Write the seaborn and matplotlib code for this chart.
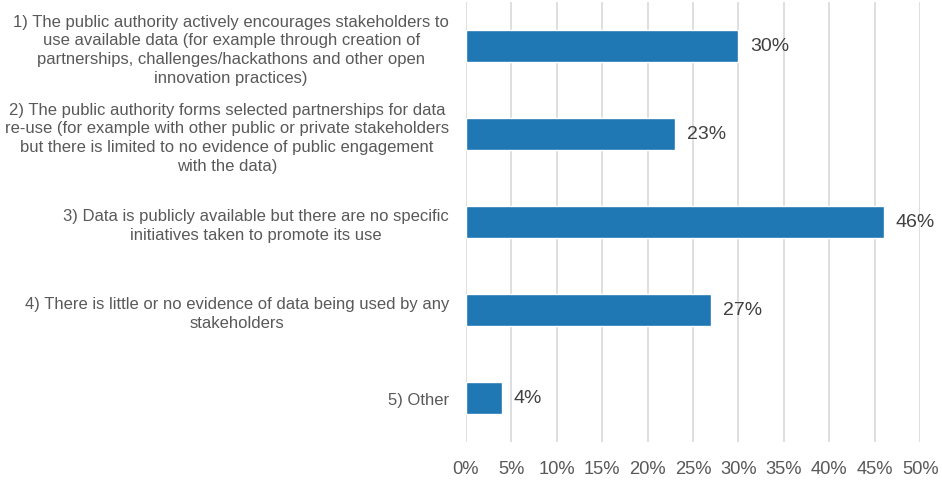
import matplotlib
matplotlib.use("Agg")
import matplotlib.pyplot as plt
import pandas as pd
import seaborn as sns
from matplotlib.ticker import FuncFormatter, MultipleLocator

categories = [
    "1) The public authority actively encourages stakeholders to\nuse available data (for example through creation of\npartnerships, challenges/hackathons and other open\ninnovation practices)",
    "2) The public authority forms selected partnerships for data\nre-use (for example with other public or private stakeholders\nbut there is limited to no evidence of public engagement\nwith the data)",
    "3) Data is publicly available but there are no specific\ninitiatives taken to promote its use",
    "4) There is little or no evidence of data being used by any\nstakeholders",
    "5) Other",
]
shares = [0.30, 0.23, 0.46, 0.27, 0.04]
value_labels = ["30%", "23%", "46%", "27%", "4%"]

df = pd.DataFrame({"category": categories, "share": shares})

sns.set_theme(style="white")
plt.rcParams["font.family"] = ["Liberation Sans", "DejaVu Sans"]

text_color = "#595959"
fig = plt.figure(figsize=(9.42, 4.81), dpi=100)
ax = fig.add_axes([0.4944, 0.079, 0.4826, 0.915])

sns.barplot(data=df, x="share", y="category", color="#1f77b4", width=0.36,
            saturation=1, ax=ax, zorder=3)

for patch, lab in zip(ax.patches, value_labels):
    ax.text(patch.get_width() + 0.013, patch.get_y() + patch.get_height() / 2, lab,
            va="center", ha="left", fontsize=14, color="#404040")

ax.set_xlim(0, 0.5)
ax.xaxis.set_major_locator(MultipleLocator(0.05))
ax.xaxis.set_major_formatter(FuncFormatter(lambda v, _: f"{round(v * 100)}%"))
ax.grid(axis="x", color="#d9d9d9", linewidth=1.2, zorder=0)
ax.set_axisbelow(True)
for side in ["top", "right", "bottom", "left"]:
    ax.spines[side].set_visible(False)
ax.tick_params(axis="x", length=0, labelsize=13.2, labelcolor=text_color, pad=13)
ax.tick_params(axis="y", length=0, labelsize=12, labelcolor=text_color, pad=12)
for t in ax.get_yticklabels():
    t.set_multialignment("center")
    t.set_linespacing(1.3)
ax.set_xlabel("")
ax.set_ylabel("")

fig.savefig("out.png", dpi=100)
